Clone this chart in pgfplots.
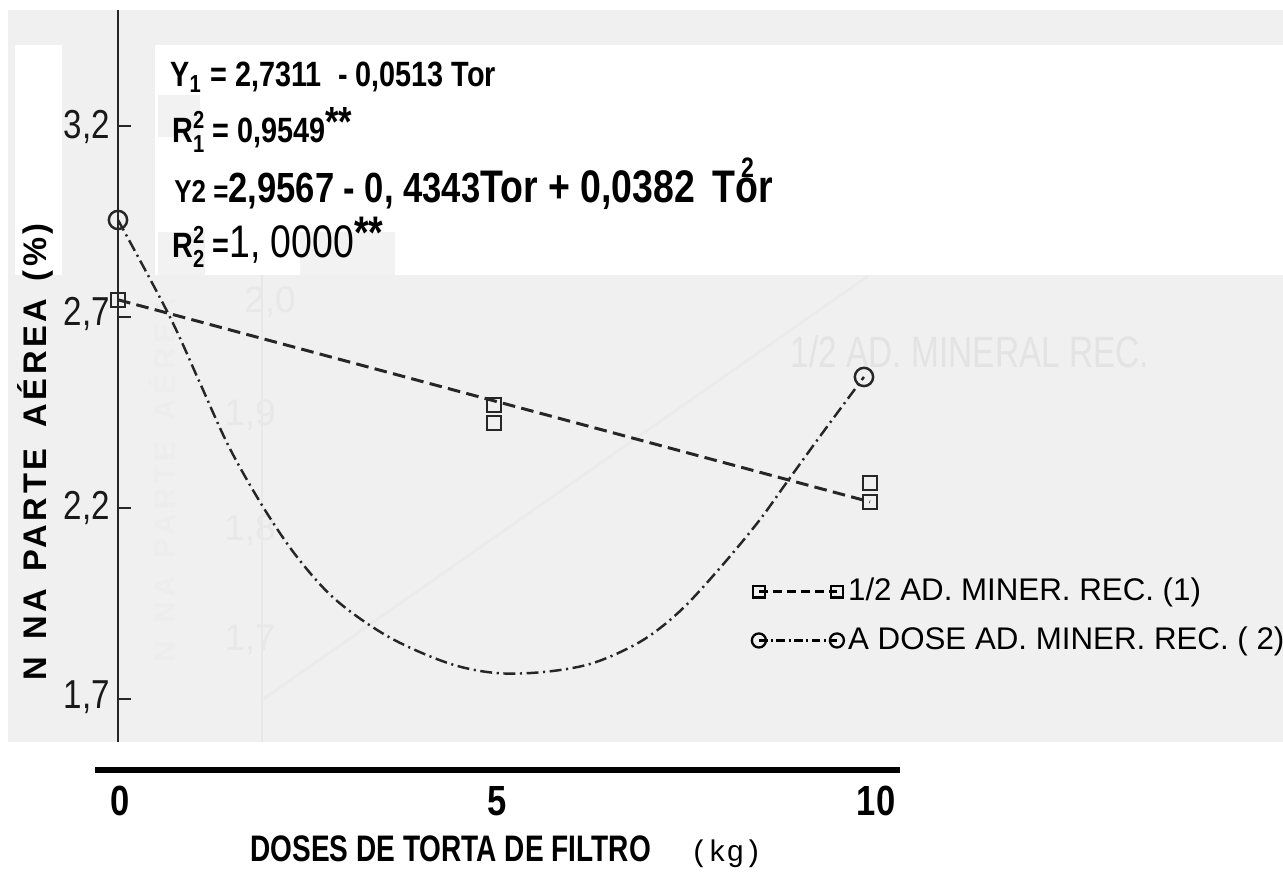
\documentclass[border=0pt]{standalone}
\usepackage{fontspec}
\setmainfont{Liberation Sans}
\newfontfamily\cond[FakeStretch=0.82]{Liberation Sans}
\newfontfamily\condx[FakeStretch=0.76]{Liberation Sans}
\newfontfamily\monof{Liberation Mono}
\usepackage{pgfplots}
\pgfplotsset{compat=1.18}

% legend sample with a mark at both ends
\pgfplotsset{endmarks/.style={legend image code/.code={%
  \draw[mark repeat=2,mark phase=1,##1] plot coordinates {(0cm,0cm) (0.39cm,0cm) (0.78cm,0cm)};}}}

\newcommand\supsub[2]{\makebox[0pt][l]{\raisebox{0.8ex}{\scriptsize#1}}\raisebox{-0.5ex}{\scriptsize#2}}

\begin{document}
\begin{tikzpicture}
% scanned page background (pixel frame, origin top left)
\begin{scope}[shift={(0,8.78cm)},x=0.1mm,y=-0.1mm]
\fill[white] (0,0) rectangle (1283,878);
\fill[black!6] (8,10) rectangle (1283,742);
\fill[white] (15,45) rectangle (62,275);
\fill[white] (155,45) rectangle (1283,275);
\fill[black!5] (158,95) rectangle (200,137);
\fill[black!5] (158,232) rectangle (205,275);
\fill[black!5] (300,232) rectangle (395,275);
% faint show-through of the other figure
\draw[black!9, line width=0.8pt] (262,275) -- (262,742);
\draw[black!8, line width=0.8pt] (262,700) -- (868,276);
\node[black!11, font=\fontsize{12.5}{14}\condx] at (970,352) {1/2 AD. MINERAL REC.};
\node[black!9, font=\fontsize{10.5}{12}\selectfont] at (270,302) {2,0};
\node[black!9, font=\fontsize{10.5}{12}\selectfont] at (250,415) {1,9};
\node[black!9, font=\fontsize{10.5}{12}\selectfont] at (250,530) {1,8};
\node[black!9, font=\fontsize{10.5}{12}\selectfont] at (250,640) {1,7};
\node[black!7, rotate=90, font=\fontsize{8.5}{10}\bfseries\addfontfeature{LetterSpace=15}] at (162,480) {N\hspace{5pt}NA\hspace{5pt}PARTE\hspace{6pt}AÉREA};
\end{scope}

\begin{axis}[
    at={(0,0)}, anchor=south west,
    scale only axis,
    width=12.83cm, height=8.78cm,
    xmin=-1.5691, xmax=15.492,
    ymin=1.2314, ymax=3.5298,
    hide axis, clip=false,
    legend style={at={(axis cs:8.42,2.03)}, anchor=north west, draw=none, fill=none,
        font=\fontsize{8.9}{10.5}\selectfont, row sep=3.5pt, inner sep=0pt,
        nodes={inner sep=1.2pt}},
    legend cell align=left,
]

% 1/2 AD. MINER. REC. (1): fitted line and observations
\addplot[black!85, line width=0.85pt, dash pattern=on 3.6pt off 1.8pt, forget plot]
  coordinates {(0,2.745) (10,2.216)};
\addplot[only marks, black!85, mark=square, mark size=2pt, line width=0.7pt, forget plot]
  coordinates {(0,2.745) (5,2.470) (5,2.423) (10,2.265) (10,2.216)};

% A DOSE AD. MINER. REC. (2): fitted curve and observations
\addplot[black!85, smooth, tension=0.55, line width=0.7pt, dash pattern=on 3.4pt off 1.3pt on 0.6pt off 1.3pt, forget plot]
  coordinates {
  (0,2.954) (0.678,2.705) (1.090,2.527) (1.476,2.360) (1.928,2.203) (2.380,2.072)
  (2.899,1.959) (3.604,1.862) (4.388,1.794) (5.027,1.768) (5.678,1.771) (6.316,1.794)
  (6.955,1.851) (7.473,1.930) (7.992,2.040) (8.511,2.163) (8.896,2.268) (9.348,2.391)
  (9.92,2.543)};
\addplot[only marks, black!85, mark=o, mark size=2.6pt, line width=0.7pt, forget plot]
  coordinates {(0,2.954) (9.92,2.543)};

\addlegendimage{black, line width=0.75pt, dash pattern=on 2.5pt off 1.5pt,
  mark=square, mark size=1.7pt, mark options={solid}, endmarks}
\addlegendentry{1/2 AD. MINER. REC. (1)}
\addlegendimage{black, line width=0.65pt, dash pattern=on 2.5pt off 1pt on 0.5pt off 1pt,
  mark=o, mark size=2pt, mark options={solid}, endmarks}
\addlegendentry{A DOSE AD. MINER. REC. ( 2)}
\end{axis}

% axis lines, labels and equations (pixel frame)
\begin{scope}[shift={(0,8.78cm)},x=0.1mm,y=-0.1mm]
\draw[black!85, line width=0.75pt] (118,10) -- (118,742);
\foreach \yy in {126,317,508,699} \draw[black!85, line width=0.8pt] (118,\yy) -- (131,\yy);
\node[anchor=east, inner sep=1pt, black!90, font=\fontsize{11.5}{13}\cond] at (114,127) {3,2};
\node[anchor=east, inner sep=1pt, black!90, font=\fontsize{11.5}{13}\cond] at (114,314) {2,7};
\node[anchor=east, inner sep=1pt, black!90, font=\fontsize{11.5}{13}\cond] at (114,508) {2,2};
\node[anchor=east, inner sep=1pt, black!90, font=\fontsize{11.5}{13}\cond] at (114,697) {1,7};
\node[rotate=90, font=\fontsize{9.3}{10}\bfseries\addfontfeature{LetterSpace=11}] at (35,452)
  {N\hspace{5pt}NA\hspace{5pt}PARTE\hspace{6pt}AÉREA\hspace{5pt}(\%)};

\draw[line width=1.5pt] (95,770) -- (900,770);
\node[font=\fontsize{12}{14}\cond\bfseries] at (120,801) {0};
\node[font=\fontsize{12}{14}\cond\bfseries] at (497,801) {5};
\node[font=\fontsize{12}{14}\cond\bfseries] at (876,801) {10};
\node[anchor=base west, font=\fontsize{10.5}{12}\condx\bfseries] at (238,862) {DOSES DE TORTA DE FILTRO};
\node[anchor=base west, font=\fontsize{8.5}{10}\monof] at (678,862) {(kg)};

\node[anchor=base west, font=\fontsize{10}{12}\cond\bfseries] at (158,87)
  {Y\textsubscript{1} = 2,7311 \ - 0,0513 Tor};
\node[anchor=base west, font=\fontsize{10}{12}\cond\bfseries] at (160,143)
  {R\supsub{2}{1} = 0,9549\raisebox{0.35ex}{\large **}};
\node[anchor=base west, font=\fontsize{10}{12}\cond\bfseries] at (162,203)
  {\fontsize{9}{10}\selectfont Y2 =\fontsize{12}{14}\selectfont 2,9567 - 0, 4343\fontsize{13}{15}\selectfont Tor + 0,0382\hspace{5pt}T\rlap{\kern0.12em\raisebox{1.05ex}{\footnotesize 2}}or};
\node[anchor=base west, font=\fontsize{10}{12}\cond\bfseries] at (160,258)
  {R\supsub{2}{2} =\fontsize{13}{15}\mdseries\cond 1, 0000\raisebox{0.4ex}{\bfseries **}};
\end{scope}

\pgfresetboundingbox
\path (0,0) rectangle (12.83cm,8.78cm);
\end{tikzpicture}
\end{document}
